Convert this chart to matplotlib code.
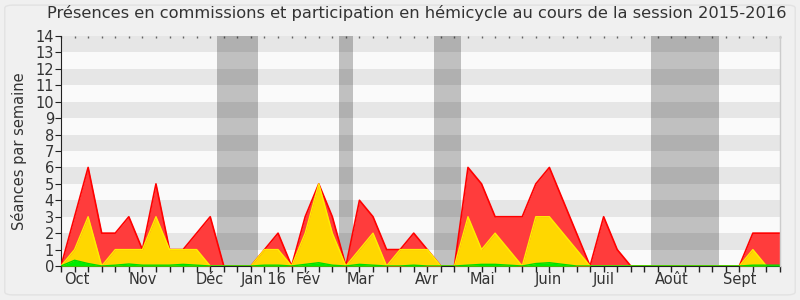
import matplotlib
matplotlib.use("Agg")
import matplotlib.pyplot as plt
from matplotlib.patches import FancyBboxPatch
import numpy as np

# weekly data (week index 0..53)
red = [0, 3, 6, 2, 2, 3, 1, 5, 1, 1, 2, 3, 0, 0, 0, 1, 2, 0, 3, 5, 3, 0, 4, 3, 1, 1, 2, 1, 0, 0,
       6, 5, 3, 3, 3, 5, 6, 4, 2, 0, 3, 1, 0, 0, 0, 0, 0, 0, 0, 0, 0, 2, 2, 2]
yellow = [0, 1, 3, 0, 1, 1, 1, 3, 1, 1, 1, 0, 0, 0, 0, 1, 1, 0, 2, 5, 2, 0, 1, 2, 0, 1, 1, 1, 0, 0,
          3, 1, 2, 1, 0, 3, 3, 2, 1, 0, 0, 0, 0, 0, 0, 0, 0, 0, 0, 0, 0, 1, 0, 0]
green = [0, 0.35, 0.15, 0, 0.05, 0.12, 0.05, 0.05, 0.05, 0.1, 0.05, 0, 0, 0, 0, 0.05, 0.05, 0, 0.1, 0.2,
         0.05, 0, 0.1, 0.05, 0, 0, 0.05, 0, 0, 0, 0.05, 0.1, 0.1, 0.05, 0, 0.15, 0.2, 0.1, 0, 0,
         0, 0, 0, 0, 0, 0, 0, 0, 0, 0, 0, 0.05, 0.05, 0.05]
holidays = [(11.5, 14.5), (20.5, 21.5), (27.5, 29.5), (43.5, 48.5)]
month_labels = ["Oct", "Nov", "Déc", "Jan 16", "Fév", "Mar", "Avr", "Mai", "Juin", "Juil", "Août", "Sept"]
month_pos = [1.15, 6.0, 11.0, 14.9, 18.2, 22.1, 27.0, 31.1, 35.9, 40.0, 45.0, 50.0]
title = "Présences en commissions et participation en hémicycle au cours de la session 2015-2016"
ylabel = "Séances par semaine"

weeks = np.arange(len(red))

fig = plt.figure(figsize=(8, 3), dpi=100)
fig.patch.set_facecolor("#F0F0F0")
fig.patches.append(FancyBboxPatch((0.006, 0.017), 0.988, 0.966, boxstyle="round,pad=0,rounding_size=0.01",
                                  transform=fig.transFigure, facecolor="#F0F0F0", edgecolor="#E2E2E2",
                                  linewidth=1, zorder=-10))
ax = fig.add_axes([0.07625, 0.1133, 0.89875, 0.7667])
ax.set_xlim(0, 53)
ax.set_ylim(0, 14)
ax.set_facecolor("#FAFAFA")

for y0 in range(1, 14, 2):
    ax.axhspan(y0, y0 + 1, color="#E6E6E6", lw=0, zorder=0)
for a, b in holidays:
    ax.axvspan(a, b, color="black", alpha=0.23, lw=0, zorder=1)

ax.fill_between(weeks, 0, red, color="#FF3C3C", lw=0, zorder=2)
ax.plot(weeks, red, color="#FF0000", lw=1.2, zorder=3)
ax.fill_between(weeks, 0, yellow, color="#FFD700", lw=0, zorder=4)
ax.plot(weeks, yellow, color="#FFEE00", lw=1.0, zorder=5)
ax.fill_between(weeks, 0, green, color="#00EE00", lw=0, zorder=6)
ax.plot(weeks, green, color="#00DD00", lw=1.0, zorder=7)

ax.xaxis.remove_overlapping_locs = False
ax.set_yticks(range(0, 15))
ax.set_xticks(weeks)
ax.set_xticklabels([])
ax.tick_params(axis="x", which="major", length=4, color="#222222", width=1)
ax.tick_params(axis="y", length=4, color="#222222", labelsize=10.5, labelcolor="#333333", pad=1)
ax.set_xticks(month_pos, minor=True)
ax.set_xticklabels(month_labels, minor=True)
ax.tick_params(axis="x", which="minor", length=0, labelsize=10.5, labelcolor="#333333", pad=4)

# top dotted week marks
ax2 = ax.secondary_xaxis("top")
ax2.set_xticks(weeks)
ax2.set_xticklabels([])
ax2.tick_params(direction="in", length=1.5, color="#666666", width=1)
ax2.spines["top"].set_visible(False)

for s in ["top", "right"]:
    ax.spines[s].set_visible(False)
ax.spines["left"].set_color("#222222")
ax.spines["bottom"].set_color("#222222")
ax.plot([1, 1], [0, 1], transform=ax.transAxes, color="#CCCCCC", lw=1, clip_on=False, zorder=8)

ax.set_ylabel(ylabel, fontsize=10.5, color="#333333", labelpad=6)
fig.text(0.521, 0.957, title, ha="center", va="center", fontsize=11.7, color="#333333")

fig.savefig("out.png", dpi=100, facecolor=fig.get_facecolor())
